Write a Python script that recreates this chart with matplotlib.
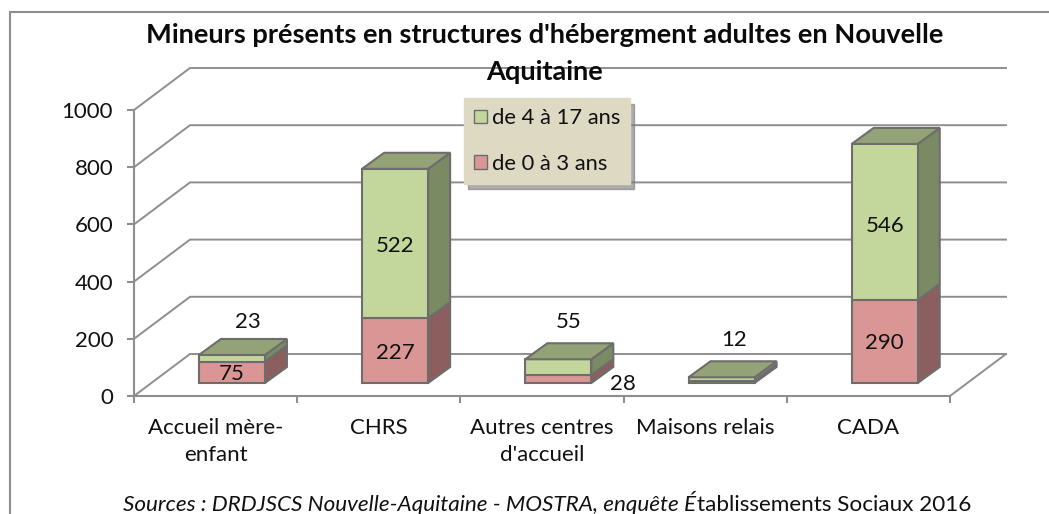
import matplotlib
matplotlib.use("Agg")
import matplotlib.pyplot as plt
from matplotlib.patches import Polygon
from matplotlib.lines import Line2D

categories = ["Accueil mère-\nenfant", "CHRS", "Autres centres\nd'accueil", "Maisons relais", "CADA"]
ages_0_3 = [75, 227, 28, 8, 290]
ages_4_17 = [23, 522, 55, 12, 546]
label_0_3 = ["75", "227", "28", "", "290"]
label_4_17 = ["23", "522", "55", "12", "546"]
yticks = [0, 200, 400, 600, 800, 1000]
series_names = ["de 0 à 3 ans", "de 4 à 17 ans"]
title_lines = ["Mineurs présents en structures d'hébergment adultes en Nouvelle", "Aquitaine"]

W, H = 1049, 514
FONT = "Lato"
FS = 16
plt.rcParams["font.family"] = [FONT, "DejaVu Sans"]
GRID = "#8e8e8e"
EDGE = "#6d6d6d"
GREEN, GREEN_SIDE, GREEN_TOP = "#c3d69b", "#7a8a63", "#94a377"
PINK, PINK_SIDE = "#d99694", "#8c5f5e"

fig = plt.figure(figsize=(W / 100, H / 100), dpi=100, facecolor="white")
AX_L, AX_R, AX_T, AX_B = 134, 950, 110, 396
ax = fig.add_axes([AX_L / W, 1 - AX_B / H, (AX_R - AX_L) / W, (AX_B - AX_T) / H])
ax.set_xlim(0, 5)
ax.set_ylim(0, 1000)
ax.patch.set_alpha(0)
PX_X = (AX_R - AX_L) / 5
PX_Y = (AX_B - AX_T) / 1000

wall_dx, wall_dy = 56 / PX_X, 42 / PX_Y
bar_dx, bar_dy = 22 / PX_X, 16 / PX_Y
floor_y = 13 / PX_Y
bar_w = 66 / PX_X
centers = [i + 0.6 for i in range(len(categories))]

# walls and gridlines
for v in yticks:
    ax.plot([0, wall_dx, 5 + wall_dx], [v, v + wall_dy, v + wall_dy], color=GRID, lw=1.4,
            clip_on=False, zorder=1, solid_joinstyle="miter")
ax.plot([5, 5 + wall_dx], [0, wall_dy], color=GRID, lw=1.4, clip_on=False, zorder=1)

# axes
for s in ("top", "right"):
    ax.spines[s].set_visible(False)
for s in ("left", "bottom"):
    ax.spines[s].set_color(GRID)
    ax.spines[s].set_linewidth(1.5)
ax.set_yticks(yticks)
ax.tick_params(axis="y", length=5, width=1.5, color=GRID, labelsize=FS, pad=10, labelcolor="#111111")
ax.set_xticks(range(6))
ax.set_xticklabels([""] * 6)
ax.tick_params(axis="x", which="major", length=5, width=1.5, color=GRID)
ax.set_xticks([i + 0.5 for i in range(5)], minor=True)
ax.set_xticklabels(categories, minor=True, fontsize=FS, color="#111111", linespacing=1.45)
ax.tick_params(axis="x", which="minor", length=0, pad=16)


def stack(vals, bottoms, face, side, name, z):
    bars = ax.bar(centers, vals, width=bar_w, bottom=bottoms, color=face, edgecolor=EDGE,
                  linewidth=1.5, zorder=z + 1, label=name, clip_on=False)
    for c, v, b in zip(centers, vals, bottoms):
        x1 = c + bar_w / 2
        ax.add_patch(Polygon([(x1, b), (x1 + bar_dx, b + bar_dy), (x1 + bar_dx, b + v + bar_dy), (x1, b + v)],
                             closed=True, facecolor=side, edgecolor=EDGE, linewidth=1.5,
                             zorder=z, clip_on=False))
    return bars


bottom_0_3 = [floor_y] * len(categories)
bottom_4_17 = [floor_y + v for v in ages_0_3]
b0 = stack(ages_0_3, bottom_0_3, PINK, PINK_SIDE, series_names[0], 3)
b1 = stack(ages_4_17, bottom_4_17, GREEN, GREEN_SIDE, series_names[1], 5)

for c, a, b in zip(centers, ages_0_3, ages_4_17):
    top = floor_y + a + b
    x0, x1 = c - bar_w / 2, c + bar_w / 2
    ax.add_patch(Polygon([(x0, top), (x1, top), (x1 + bar_dx, top + bar_dy), (x0 + bar_dx, top + bar_dy)],
                         closed=True, facecolor=GREEN_TOP, edgecolor=EDGE, linewidth=1.5,
                         zorder=7, clip_on=False))

# data labels: offsets in pixels for those pulled off thin segments
offs_0_3 = [(0, -2), (0, -2), (65, -5), (0, 0), (0, -1)]
offs_4_17 = [(16, 36), (0, -3), (10, 45), (13, 39), (0, -4)]
for c, bot, v, txt, off in zip(centers, bottom_0_3, ages_0_3, label_0_3, offs_0_3):
    ax.annotate(txt, (c, bot + v / 2), xytext=off, textcoords="offset pixels", ha="center", va="center",
                fontsize=FS, color="#111111", zorder=9, annotation_clip=False)
for c, bot, v, txt, off in zip(centers, bottom_4_17, ages_4_17, label_4_17, offs_4_17):
    ax.annotate(txt, (c, bot + v / 2), xytext=off, textcoords="offset pixels", ha="center", va="center",
                fontsize=FS, color="#111111", zorder=9, annotation_clip=False)

# legend
leg = ax.legend(handles=[b1, b0], labels=[series_names[1], series_names[0]],
                loc="upper left", bbox_to_anchor=(464 / W, 1 - 98 / H), bbox_transform=fig.transFigure,
                fancybox=False, facecolor="#ddd9c3", edgecolor="#ddd9c3", framealpha=1,
                fontsize=FS - 0.2, labelcolor="#111111", handlelength=0.58, handleheight=0.58,
                handletextpad=0.22, labelspacing=1.16, borderpad=0.46, borderaxespad=0,
                shadow={"color": "#777777", "alpha": 0.6, "ox": 3, "oy": -4})
leg.set_zorder(10)
for h in leg.legend_handles:
    h.set_edgecolor("#6d6d6d")
    h.set_linewidth(1.0)

# title
TITLE_FS = 19.6
fig.text(545 / W, 1 - 35 / H, title_lines[0], ha="center", va="center", fontsize=TITLE_FS, fontweight="bold", color="#0a0a0a")
fig.text(545 / W, 1 - 72 / H, title_lines[1], ha="center", va="center", fontsize=TITLE_FS, fontweight="bold", color="#0a0a0a")

# source line: mixed italic and upright
renderer = fig.canvas.get_renderer()
x = 123
for txt, style in [("Sources : DRDJSCS Nouvelle-Aquitaine - MOSTRA, enquête É", "italic"),
                   ("tablissements Sociaux 2016", "normal")]:
    t = fig.text(x / W, 1 - 511 / H, txt, ha="left", va="baseline", fontsize=FS + 0.2, style=style, color="#111111")
    x = t.get_window_extent(renderer).x1 + 0.5

# outer frame
fig.add_artist(Line2D([10 / W, 10 / W, 1], [0, 1 - 12 / H, 1 - 12 / H], color=GRID, lw=1.5, solid_joinstyle="miter"))

fig.savefig("out.png", dpi=100, facecolor="white")
